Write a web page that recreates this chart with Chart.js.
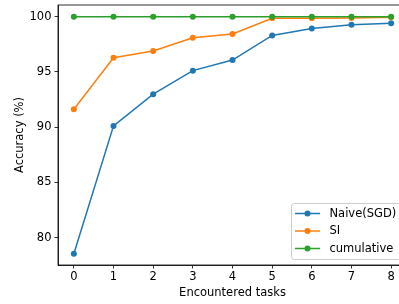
<!DOCTYPE html>
<html>
<head>
<meta charset="utf-8">
<script src="https://cdn.jsdelivr.net/npm/chart.js@4"></script>
<style>
  body { margin: 0; overflow: hidden; background: #ffffff; }
  #wrap { width: 399px; height: 304px; overflow: hidden; }
</style>
</head>
<body>
<div id="wrap"><canvas id="accChart" width="420" height="304"></canvas></div>
<script>
const tasks = [0, 1, 2, 3, 4, 5, 6, 7, 8];
const naiveAcc = [78.55, 90.12, 92.99, 95.12, 96.08, 98.31, 98.94, 99.27, 99.40];
const siAcc = [91.63, 96.29, 96.90, 98.10, 98.43, 99.85, 99.87, 99.88, 99.95];
const cumulativeAcc = [100, 100, 100, 100, 100, 100, 100, 100, 100];
const seriesNames = ["Naive(SGD)", "SI", "cumulative"];
const seriesColors = ["#1f77b4", "#ff7f0e", "#2ca02c"];
const yTicks = [80, 85, 90, 95, 100];

const fontFamily = "'DejaVu Sans', sans-serif";
const fontSize = 11.5;

function toPoints(values) {
    return tasks.map(function (t, i) {
        return { x: t, y: values[i] };
    });
}

function makeSet(idx, values, order) {
    return {
        label: seriesNames[idx],
        data: toPoints(values),
        borderColor: seriesColors[idx],
        backgroundColor: seriesColors[idx],
        borderWidth: 1.5,
        pointRadius: 3,
        pointBorderWidth: 0,
        pointHoverRadius: 3,
        tension: 0,
        order: order
    };
}

// frame (top/right spines) and the in-axes legend, matplotlib style
const framePlugin = {
    id: "frame",
    afterDraw: function (chart) {
        const ctx = chart.ctx;
        const a = chart.chartArea;
        ctx.save();
        ctx.strokeStyle = "#000000";
        ctx.lineWidth = 0.8;
        ctx.strokeRect(a.left, a.top, a.right - a.left, a.bottom - a.top);

        // legend box, lower right
        const bx = 291.5, by = 203.5, bw = 110, bh = 56;
        ctx.beginPath();
        ctx.roundRect(bx, by, bw, bh, 3);
        ctx.fillStyle = "rgba(255,255,255,0.8)";
        ctx.fill();
        ctx.strokeStyle = "#cccccc";
        ctx.lineWidth = 1;
        ctx.stroke();

        ctx.font = fontSize + "px " + fontFamily;
        ctx.textBaseline = "middle";
        ctx.textAlign = "left";
        for (let i = 0; i < seriesNames.length; i++) {
            const cy = 213.5 + i * 17.5;
            ctx.strokeStyle = seriesColors[i];
            ctx.lineWidth = 1.5;
            ctx.beginPath();
            ctx.moveTo(295, cy);
            ctx.lineTo(320, cy);
            ctx.stroke();
            ctx.fillStyle = seriesColors[i];
            ctx.beginPath();
            ctx.arc(307.5, cy, 3, 0, Math.PI * 2);
            ctx.fill();
            ctx.fillStyle = "#000000";
            ctx.fillText(seriesNames[i], 329.5, cy + 0.5);
        }
        ctx.restore();
    }
};

const accChart = new Chart(document.getElementById("accChart"), {
    type: "line",
    data: {
        datasets: [
            makeSet(0, naiveAcc, 2),
            makeSet(1, siAcc, 1),
            makeSet(2, cumulativeAcc, 0)
        ]
    },
    options: {
        responsive: false,
        animation: false,
        layout: {
            padding: { top: 5, right: 13, left: 0, bottom: 0 }
        },
        plugins: {
            legend: { display: false },
            tooltip: { enabled: false }
        },
        scales: {
            x: {
                type: "linear",
                min: -0.4,
                max: 8.4,
                afterBuildTicks: function (scale) {
                    scale.ticks = tasks.map(function (v) { return { value: v }; });
                },
                afterFit: function (scale) {
                    scale.height = 39;
                    scale.paddingLeft = 0;
                    scale.paddingRight = 0;
                },
                grid: {
                    drawOnChartArea: false,
                    drawTicks: true,
                    tickLength: 3.5,
                    tickWidth: 0.8,
                    tickColor: "#000000"
                },
                border: { color: "#000000", width: 0.8 },
                ticks: {
                    color: "#000000",
                    padding: 2,
                    maxRotation: 0,
                    font: { family: fontFamily, size: fontSize }
                },
                title: {
                    display: true,
                    text: "Encountered tasks",
                    color: "#000000",
                    padding: { top: 0, bottom: 4.5 },
                    font: { family: fontFamily, size: fontSize }
                }
            },
            y: {
                min: 77.53,
                max: 101.06,
                afterBuildTicks: function (scale) {
                    scale.ticks = yTicks.map(function (v) { return { value: v }; });
                },
                afterFit: function (scale) {
                    scale.width = 58;
                    scale.paddingTop = 0;
                    scale.paddingBottom = 0;
                },
                grid: {
                    drawOnChartArea: false,
                    drawTicks: true,
                    tickLength: 3.5,
                    tickWidth: 0.8,
                    tickColor: "#000000"
                },
                border: { color: "#000000", width: 0.8 },
                ticks: {
                    color: "#000000",
                    padding: 3,
                    font: { family: fontFamily, size: fontSize }
                },
                title: {
                    display: true,
                    text: "Accuracy (%)",
                    color: "#000000",
                    padding: { top: 13, bottom: 0 },
                    font: { family: fontFamily, size: fontSize }
                }
            }
        }
    },
    plugins: [framePlugin]
});
</script>
</body>
</html>
